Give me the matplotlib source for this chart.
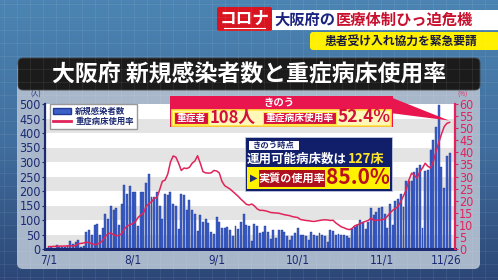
import numpy as np
import matplotlib
matplotlib.use('Agg')
import matplotlib.pyplot as plt
import matplotlib.transforms as mtransforms
from matplotlib.patches import FancyBboxPatch, Rectangle, Polygon, Patch
from matplotlib.lines import Line2D
from matplotlib.colors import LinearSegmentedColormap

plt.rcParams['font.family'] = ['Noto Sans CJK JP', 'DejaVu Sans']

# daily new cases in Osaka, 7/1 - 11/26
cases = [8, 6, 5, 13, 6, 7, 6, 9, 28, 18,
         24, 30, 8, 12, 58, 64, 50, 84, 86, 47,
         72, 121, 104, 149, 136, 140, 84, 155, 221, 191, 218,
         196, 196, 80, 195, 197, 226, 257, 180, 178, 197,
         150, 105, 188, 185, 196, 155, 150, 70, 188, 186,
         136, 168, 135, 122, 62, 118,
         92, 105, 89, 57, 53, 112, 94, 73, 73, 76,
         64, 44, 78, 69, 92, 119, 83, 78, 28, 85,
         78, 55, 60, 80, 57, 34, 64, 39, 64, 67,
         60, 46, 32, 44, 55, 73, 50, 50, 44, 32,
         57, 48, 46, 55, 48, 44, 25, 67, 62, 48,
         53, 50, 48, 46, 39, 69, 76, 83, 101, 92,
         69, 92, 142, 117, 128, 140, 145, 122, 71, 156,
         83, 167, 174, 190, 145, 234, 236, 234, 266, 278,
         289, 73, 268, 273, 340, 376, 420, 495, 284, 211,
         321, 330]

# severe-case bed usage rate (%)
bed_rate = [1.0, 1.0, 1.1, 1.1, 1.2, 1.2, 1.2, 1.3, 1.3, 1.3, 1.4,
            2.2, 2.3, 2.5, 2.8, 2.6, 2.2, 1.8, 2.0, 2.5, 3.6,
            5.2, 6.4, 6.6, 5.9, 5.5, 5.6, 6.4, 8.3, 9.5, 10.0,
            10.5, 11.2, 13.0, 14.0, 14.8, 17.5, 18.8, 19.5, 21.0, 21.2,
            24.5, 28.0, 28.5, 31.0, 36.0, 38.5, 38.0, 35.5, 32.5, 33.5,
            33.3, 33.8, 35.5, 36.4, 38.6, 35.5, 32.0, 31.5, 31.4, 31.5,
            32.5, 32.3, 31.5, 28.0, 26.2, 25.5, 24.8, 23.8, 22.8, 21.8,
            20.6, 19.6, 18.5, 18.2, 18.6, 17.8, 16.6, 16.0, 16.0, 15.8,
            15.5, 15.1, 15.0, 14.9, 14.8, 14.5, 14.2, 14.0, 13.8, 13.4,
            13.2, 13.0, 12.2, 12.0, 11.8, 11.7, 11.5, 11.4, 11.6, 11.8,
            12.0, 12.1, 12.0, 11.8, 11.9, 10.8, 10.0, 9.2, 8.8, 8.3,
            8.0, 8.5, 9.6, 10.0, 10.5, 11.0, 11.5, 11.8, 12.8, 11.8,
            11.9, 12.0, 12.1, 12.4, 13.5, 14.9, 16.0, 16.8, 17.6, 19.7,
            22.0, 24.5, 28.6, 31.4, 30.5, 29.3, 32.0, 33.5, 35.5, 34.2,
            33.6, 36.2, 40.3, 44.0, 47.5, 50.6, 52.0, 52.4]

tick_days = [0, 31, 62, 92, 123, 148]
tick_labels = ['7/1', '8/1', '9/1', '10/1', '11/1', '11/26']

NAVY = '#1b2a72'
PINK = '#e0245a'
num_font = ['Liberation Sans Narrow', 'DejaVu Sans']

days = np.arange(len(cases))

fig = plt.figure(figsize=(4.98, 2.8), dpi=100)

# background
bg = fig.add_axes([0, 0, 1, 1], zorder=-5)
bg.set_xlim(0, 498)
bg.set_ylim(280, 0)
bg.axis('off')
cmap = LinearSegmentedColormap.from_list('bg', ['#4b84b2', '#416f9f', '#2c4777'])
grad = np.linspace(0, 1, 280)[:, None] * np.ones((1, 10))
bg.imshow(grad, cmap=cmap, extent=[0, 498, 280, 0], aspect='auto')
for gx in range(4, 498, 13):
    bg.plot([gx, gx], [0, 280], color='white', alpha=0.08, lw=0.6)
for gy in range(4, 280, 13):
    bg.plot([0, 498], [gy, gy], color='white', alpha=0.08, lw=0.6)
bg.add_patch(FancyBboxPatch((17, 62), 463, 207, boxstyle='round,pad=0,rounding_size=6',
                            facecolor='#a9b7cb', edgecolor='none'))
bg.add_patch(FancyBboxPatch((18, 58), 462, 32, boxstyle='round,pad=0,rounding_size=5',
                            facecolor='#1b1b1b', edgecolor='#444444', lw=0.6))
bg.text(249, 74.5, '大阪府 新規感染者数と重症病床使用率', color='white', fontsize=16.5,
        fontweight='bold', ha='center', va='center')

# top banner
bg.add_patch(Rectangle((272, 10), 226, 20, facecolor='white', edgecolor='none'))
bg.add_patch(FancyBboxPatch((217, 7), 55, 24, boxstyle='round,pad=0,rounding_size=2',
                            facecolor='#d7141f', edgecolor='none'))
bg.text(244.5, 18.5, 'コロナ', color='white', fontsize=12, fontweight='bold',
        ha='center', va='center')
bg.plot([224, 265], [28, 28], color='white', lw=0.8)
bg.text(335, 20, '大阪府の', color='#1a237e', fontsize=11, fontweight='bold',
        ha='right', va='center')
bg.text(336, 20, '医療体制ひっ迫危機', color='#c8102e', fontsize=11, fontweight='bold',
        ha='left', va='center')
bg.add_patch(FancyBboxPatch((310, 32), 190, 18, boxstyle='round,pad=0,rounding_size=3',
                            facecolor='#fff000', edgecolor='none'))
bg.text(401, 41.5, '患者受け入れ協力を緊急要請', color='#1a1a40', fontsize=8.5,
        fontweight='bold', ha='center', va='center')

# chart
ax = fig.add_axes([45 / 498, 31 / 280, 410 / 498, 145 / 280])
ax.set_facecolor('white')
for lo in range(0, 500, 100):
    ax.axhspan(lo, lo + 50, color='#e4e4e4', lw=0, zorder=0)
bars = ax.bar(days, cases, width=0.72, color='#3c5fc8', edgecolor='#223b94',
              linewidth=0.3, zorder=2, label='新規感染者数')
ax.set_xlim(-1.3, 150.0)
ax.set_ylim(0, 500)
ax.set_yticks(range(0, 501, 50))
ax.set_xticks(tick_days)
ax.set_xticklabels(tick_labels)
ax.tick_params(axis='x', length=0, pad=3.5, colors=NAVY, labelsize=8.5)
ax.tick_params(axis='y', length=2, pad=1, colors=NAVY, labelsize=9, width=0.8)
for lab in ax.get_xticklabels() + ax.get_yticklabels():
    lab.set_family(num_font)
    lab.set_stretch('condensed')
# nudge the last date label left, as in the original
last = ax.get_xticklabels()[-1]
last.set_transform(last.get_transform() + mtransforms.ScaledTranslation(-0.03, 0, fig.dpi_scale_trans))
ax.spines['top'].set_visible(False)
ax.spines['right'].set_visible(False)
ax.spines['left'].set_color(NAVY)
ax.spines['left'].set_linewidth(1.6)
ax.spines['bottom'].set_color(NAVY)
ax.spines['bottom'].set_linewidth(2.2)

ax2 = ax.twinx()
line, = ax2.plot(days, bed_rate, color=PINK, lw=1.1, zorder=3, label='重症病床使用率')
ax2.set_ylim(0, 60)
ax2.set_yticks(range(0, 61, 5))
ax2.tick_params(axis='y', length=2, pad=1, colors=PINK, labelsize=9, width=0.8)
for lab in ax2.get_yticklabels():
    lab.set_family(num_font)
    lab.set_stretch('condensed')
ax2.spines['right'].set_color(PINK)
ax2.spines['right'].set_linewidth(1.6)
for s in ['top', 'left', 'bottom']:
    ax2.spines[s].set_visible(False)

leg = ax2.legend(handles=[Patch(facecolor='#3c5fc8', edgecolor='#223b94'),
                          Line2D([0], [0], color=PINK, lw=2)],
                 labels=['新規感染者数', '重症病床使用率'],
                 loc='upper left', bbox_to_anchor=(0.012, 1.0), borderaxespad=0,
                 prop={'size': 6, 'weight': 'bold'}, handlelength=2.2, handleheight=0.6,
                 labelspacing=0.15, borderpad=0.35, handletextpad=0.5,
                 fancybox=False, framealpha=1, edgecolor='#999999', labelcolor=NAVY)
leg.get_frame().set_linewidth(1.0)

# overlay annotations
ov = fig.add_axes([0, 0, 1, 1], zorder=10)
ov.set_xlim(0, 498)
ov.set_ylim(280, 0)
ov.axis('off')
ov.patch.set_alpha(0)

ov.text(36, 94.5, '(人)', color=NAVY, fontsize=4.5, ha='center', va='center')
ov.text(463, 94.5, '(%)', color=PINK, fontsize=4.5, ha='center', va='center')

# "きのう" red callout
ov.add_patch(Polygon([(390, 97), (390, 113), (449, 120.5)], closed=True,
                     facecolor='#e8154f', edgecolor='none'))
ov.add_patch(Rectangle((170, 96), 223, 31, facecolor='#e8154f', edgecolor='none'))
ov.text(279, 103, 'きのう', color='white', fontsize=7.5, fontweight='bold',
        ha='center', va='center')
ov.add_patch(Rectangle((172, 110), 219, 15.5, facecolor='#fff8b8', edgecolor='#ffe63c', lw=1.2))
ov.add_patch(Rectangle((174, 111.5), 34, 12.5, facecolor='#d6103e', edgecolor='#ffe63c', lw=0.8))
ov.text(191, 117.8, '重症者', color='white', fontsize=7, fontweight='bold',
        ha='center', va='center')
ov.text(233, 117.5, '108人', color='#d4103a', fontsize=12, fontweight='bold',
        ha='center', va='center')
ov.add_patch(Rectangle((263, 111.5), 73, 12.5, facecolor='#d6103e', edgecolor='#ffe63c', lw=0.8))
ov.text(299.5, 117.8, '重症病床使用率', color='white', fontsize=7, fontweight='bold',
        ha='center', va='center')
ov.text(364, 117.5, '52.4%', color='#d4103a', fontsize=12.5, fontweight='bold',
        ha='center', va='center')

# navy info box
ov.add_patch(Rectangle((245, 137), 147, 54, facecolor='#111f6b', edgecolor='#c0c8e0', lw=0.6))
ov.add_patch(Rectangle((249, 140.5), 50, 9, facecolor='white', edgecolor='none'))
ov.text(274, 145, 'きのう時点', color=NAVY, fontsize=6, fontweight='bold',
        ha='center', va='center')
ov.text(347, 159.5, '運用可能病床数は', color='white', fontsize=9, fontweight='bold',
        ha='right', va='center')
ov.text(348, 159.5, '127床', color='#ffe629', fontsize=9.5, fontweight='bold',
        ha='left', va='center')
ov.add_patch(Rectangle((247, 167), 143, 22, facecolor='#fff200', edgecolor='none'))
ov.text(254, 178, '▶', color=NAVY, fontsize=7, ha='center', va='center',
        family=['DejaVu Sans'])
ov.add_patch(Rectangle((259, 170), 66, 16.5, facecolor='#b0101c', edgecolor='none'))
ov.text(292, 178.3, '実質の使用率', color='white', fontsize=8, fontweight='bold',
        ha='center', va='center')
ov.text(358, 178, '85.0%', color='#b8101c', fontsize=15, fontweight='bold',
        ha='center', va='center')

fig.savefig('out.png', dpi=100)
